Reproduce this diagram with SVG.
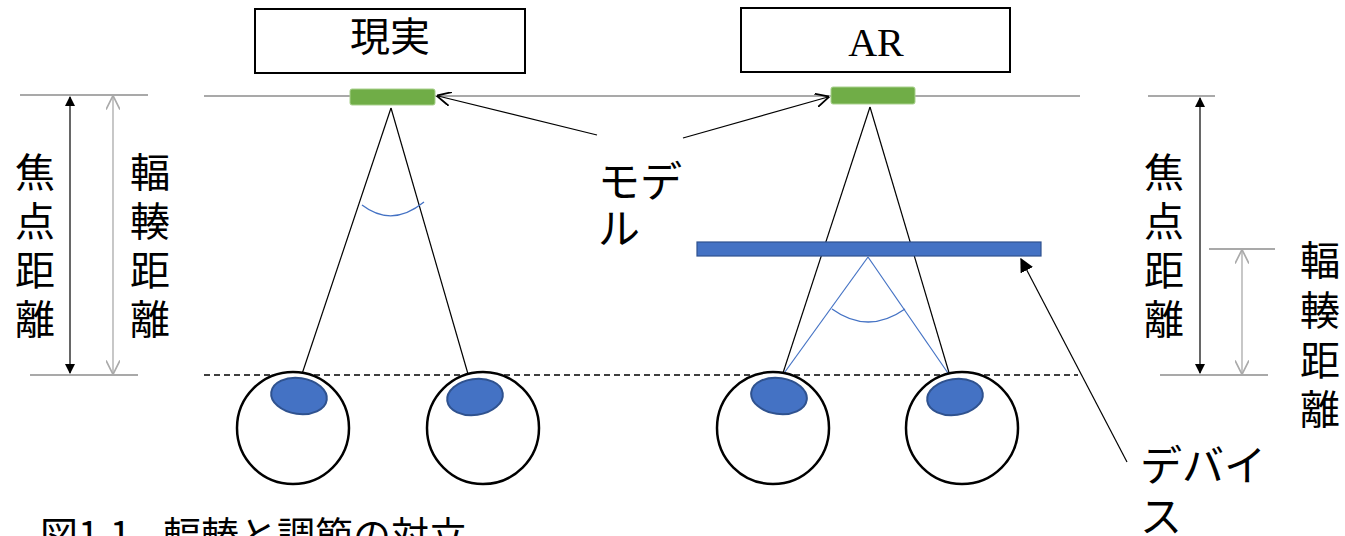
<svg xmlns="http://www.w3.org/2000/svg" width="1345" height="536" viewBox="0 0 1345 536">
<defs>
<style>
.jp{font-family:"Noto Sans CJK JP","Noto Sans",sans-serif;fill:#000}
.ln{stroke:#000;stroke-width:1.2;fill:none}
.gl{stroke:#555;stroke-width:1.2;fill:none}
.eye{fill:#fff;stroke:#000;stroke-width:2.5}
.iris{fill:#4472C4;stroke:#2F528F;stroke-width:2}
.model{fill:#70AD47;stroke:#A9D18E;stroke-width:1}
.box{fill:#fff;stroke:#000;stroke-width:2}
</style>
<marker id="fill" viewBox="0 0 10 10" refX="9" refY="5" markerWidth="10" markerHeight="10" markerUnits="userSpaceOnUse" orient="auto-start-reverse">
<path d="M0,0 L10,5 L0,10 z" fill="#000"/>
</marker>
<marker id="fillL" viewBox="0 0 10 10" refX="9" refY="5" markerWidth="14" markerHeight="14" markerUnits="userSpaceOnUse" orient="auto-start-reverse">
<path d="M0,0 L10,5 L0,10 z" fill="#000"/>
</marker>
<marker id="open" viewBox="0 0 10 10" refX="9" refY="5" markerWidth="14" markerHeight="14" markerUnits="userSpaceOnUse" orient="auto-start-reverse">
<path d="M0,0 L10,5 L0,10" fill="none" stroke="#000" stroke-width="1.3"/>
</marker>
<marker id="openG" viewBox="0 0 10 10" refX="9" refY="5" markerWidth="14" markerHeight="14" markerUnits="userSpaceOnUse" orient="auto-start-reverse">
<path d="M0,0 L10,5 L0,10" fill="none" stroke="#AAAAAA" stroke-width="1.2"/>
</marker>
</defs>
<rect width="1345" height="536" fill="#fff"/>

<g id="connectors">
<line class="gl" x1="20" y1="95" x2="148" y2="95"/>
<line class="gl" x1="30" y1="375" x2="138" y2="375"/>
<line class="gl" x1="204" y1="96" x2="1080" y2="96"/>
<line x1="204" y1="375" x2="1078" y2="375" stroke="#000" stroke-width="1.4" stroke-dasharray="6,4"/>
<line class="gl" x1="1148" y1="96" x2="1215" y2="96"/>
<line class="gl" x1="1160" y1="375" x2="1268" y2="375"/>
<line class="gl" x1="1209" y1="249" x2="1275" y2="249"/>
<line class="ln" x1="70" y1="97" x2="70" y2="373" marker-start="url(#fill)" marker-end="url(#fill)"/>
<line x1="113" y1="97" x2="113" y2="373" stroke="#AAAAAA" stroke-width="1.3" marker-start="url(#openG)" marker-end="url(#openG)"/>
<line class="ln" x1="1200" y1="98" x2="1200" y2="373" marker-start="url(#fill)" marker-end="url(#fill)"/>
<line x1="1242" y1="251" x2="1242" y2="373" stroke="#AAAAAA" stroke-width="1.3" marker-start="url(#openG)" marker-end="url(#openG)"/>
<line class="ln" x1="391" y1="108" x2="302" y2="374"/>
<line class="ln" x1="391" y1="108" x2="468" y2="374"/>
<path d="M362,205 Q392,228 424,202" fill="none" stroke="#4472C4" stroke-width="1.3"/>
<line class="ln" x1="870" y1="107" x2="782" y2="376"/>
<line class="ln" x1="870" y1="107" x2="950" y2="376"/>
<line x1="868" y1="257" x2="782" y2="376" stroke="#4472C4" stroke-width="1.2"/>
<line x1="868" y1="257" x2="950" y2="376" stroke="#4472C4" stroke-width="1.2"/>
<path d="M832,309 Q868,335 905,309" fill="none" stroke="#4472C4" stroke-width="1.3"/>
<line class="ln" x1="597" y1="135" x2="438" y2="96" marker-end="url(#open)"/>
<line class="ln" x1="683" y1="138" x2="828" y2="97" marker-end="url(#open)"/>
<line class="ln" x1="1127" y1="462" x2="1021" y2="259" marker-end="url(#fillL)"/>
</g>

<g id="box-real">
<rect class="box" x="255" y="9" width="270" height="64"/>
<text class="jp" x="390" y="51" font-size="40" text-anchor="middle">現実</text>
</g>
<g id="box-ar">
<rect class="box" x="741" y="8" width="269" height="64"/>
<text x="876" y="56" font-size="40" text-anchor="middle" font-family="Liberation Serif, serif">AR</text>
</g>

<g id="model-left"><rect class="model" x="350" y="89" width="85" height="16" rx="2"/></g>
<g id="model-right"><rect class="model" x="831" y="87" width="84" height="17" rx="2"/></g>

<g id="device"><rect x="697" y="242" width="344" height="14" fill="#4472C4" stroke="#2F528F" stroke-width="1.2"/></g>

<g id="eye-1"><circle class="eye" cx="293" cy="428" r="56"/><ellipse class="iris" cx="299" cy="396" rx="28" ry="18" transform="rotate(8 299 396)"/></g>
<g id="eye-2"><circle class="eye" cx="483" cy="428" r="56"/><ellipse class="iris" cx="475" cy="397" rx="28" ry="18" transform="rotate(-8 475 397)"/></g>
<g id="eye-3"><circle class="eye" cx="773" cy="428" r="56"/><ellipse class="iris" cx="779" cy="396" rx="28" ry="18" transform="rotate(8 779 396)"/></g>
<g id="eye-4"><circle class="eye" cx="962" cy="428" r="56"/><ellipse class="iris" cx="955" cy="397" rx="28" ry="18" transform="rotate(-8 955 397)"/></g>

<g id="label-focal-left">
<text class="jp" font-size="40" text-anchor="middle"><tspan x="35" y="187">焦</tspan><tspan x="35" y="236">点</tspan><tspan x="35" y="285">距</tspan><tspan x="35" y="334">離</tspan></text>
</g>
<g id="label-conv-left">
<text class="jp" font-size="40" text-anchor="middle"><tspan x="150" y="187">輻</tspan><tspan x="150" y="236">輳</tspan><tspan x="150" y="285">距</tspan><tspan x="150" y="334">離</tspan></text>
</g>
<g id="label-focal-right">
<text class="jp" font-size="40" text-anchor="middle"><tspan x="1164" y="187">焦</tspan><tspan x="1164" y="236">点</tspan><tspan x="1164" y="285">距</tspan><tspan x="1164" y="334">離</tspan></text>
</g>
<g id="label-conv-right">
<text class="jp" font-size="40" text-anchor="middle"><tspan x="1320" y="275">輻</tspan><tspan x="1320" y="325">輳</tspan><tspan x="1320" y="375">距</tspan><tspan x="1320" y="424">離</tspan></text>
</g>
<g id="label-model">
<text class="jp" font-size="42"><tspan x="598" y="197">モデ</tspan><tspan x="598" y="244">ル</tspan></text>
</g>
<g id="label-device">
<text class="jp" font-size="42"><tspan x="1140" y="481">デバイ</tspan><tspan x="1140" y="532">ス</tspan></text>
</g>
<g id="caption">
<text class="jp" font-size="38"><tspan x="40" y="549">図1.1</tspan><tspan x="163" y="549">輻輳と調節の対立</tspan></text>
</g>
</svg>
